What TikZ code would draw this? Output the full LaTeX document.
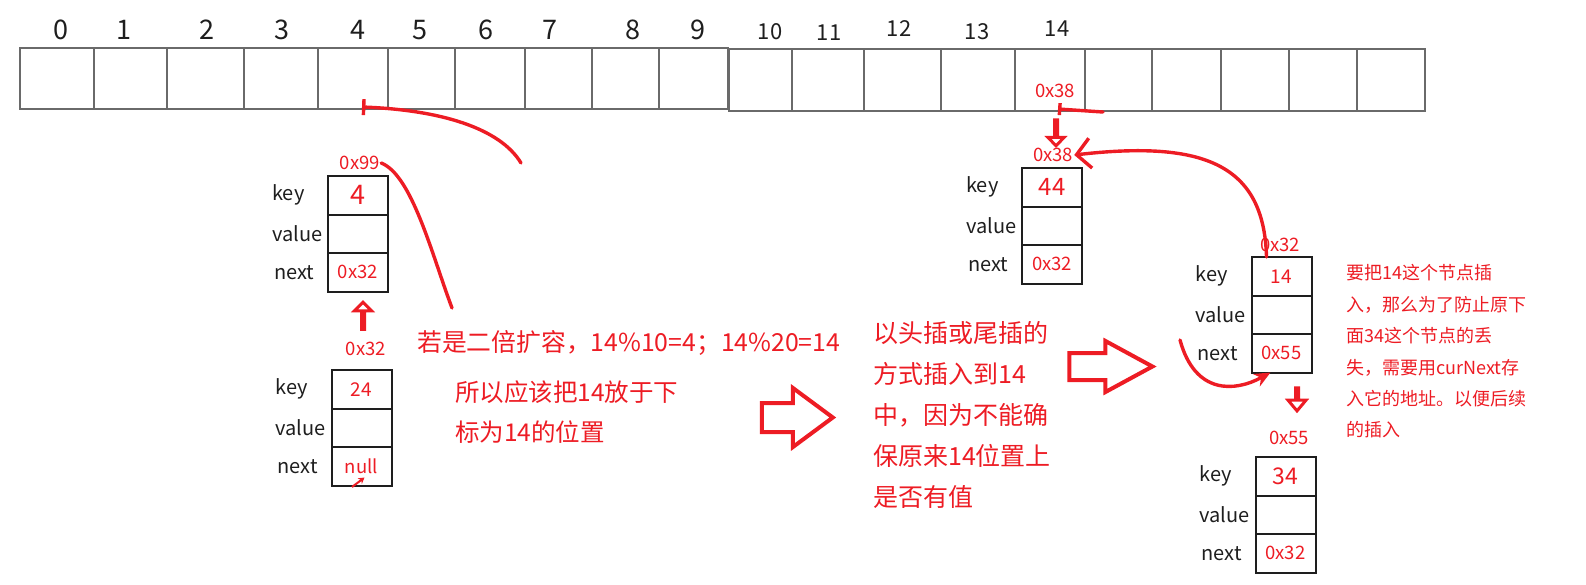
\documentclass[tikz,border=0pt]{standalone}
\usepackage{fontspec}
\setmainfont{Noto Sans CJK SC}
\usepackage{tikz}
\usetikzlibrary{arrows.meta,positioning,shapes.arrows}
\definecolor{ink}{HTML}{1E1E1E}
\definecolor{scarlet}{HTML}{ED1C24}
\definecolor{slate}{HTML}{6A6A6A}
\colorlet{acc}{scarlet}
\colorlet{grid}{slate}

\begin{document}
\begin{tikzpicture}[x=1pt,y=-1pt,
    slot/.style={draw=grid,line width=1.4pt,inner sep=0,outer sep=0},
    field/.style={draw=ink,line width=2pt,minimum width=60pt,minimum height=38.5pt,
                  inner sep=0,outer sep=0,text=acc,font=\fontsize{18.5}{18.5}\selectfont},
    fname/.style={anchor=west,text=ink,inner sep=0,font=\fontsize{20}{20}\selectfont},
    addr/.style={text=acc,inner sep=1pt,font=\fontsize{18.5}{18.5}\selectfont},
    note/.style={anchor=west,text=acc,align=left,inner sep=0},
    scrawl/.style={acc,line width=3.4pt,line cap=round,line join=round},
    blockarrow/.style={single arrow,draw=acc,line width=4pt,inner xsep=0,
                       single arrow head indent=0pt}]
    \useasboundingbox (0,0) rectangle (1586,584);
    \foreach \i/\a/\b/\t/\u in {0/20/94/48/109, 1/94/167/48/109, 2/167/244/48/109,
        3/244/318/48/109, 4/318/388/48/109, 5/388/455/48/109, 6/455/525/48/109,
        7/525/592/48/109, 8/592/659/48/109, 9/659/728/48/109, 10/729/792/49/111,
        11/792/864/49/111, 12/864/941/49/111, 13/941/1015/49/111, 14/1015/1085/49/111,
        15/1085/1152/49/111, 16/1152/1221/49/111, 17/1221/1289/49/111,
        18/1289/1357/49/111, 19/1357/1425/49/111}
      \node[slot,minimum width={(\b-\a)*1pt},minimum height={(\u-\t)*1pt}]
        (cell\i) at ({(\a+\b)/2},{(\t+\u)/2}) {};
    \foreach \i/\x/\y/\s in {0/61/30/27, 1/124/30/27, 2/207/30/27, 3/282/30/27,
        4/358/30/27, 5/420/30/27, 6/486/30/27, 7/550/30/27, 8/633/30/27, 9/698/30/27,
        10/770/32/22, 11/829/33/22, 12/899/29/22, 13/977/32/22, 14/1057/29/22}
      \node[text=ink,inner sep=0,font=\fontsize{\s}{\s}\selectfont] (idx\i) at (\x,\y) {\i};
    \node[addr] (cell14-ad) at (1055,91) {0x38};
    \foreach \nm/\bx/\by/\ks/\kv/\nv in {e4/358/176/27/4/0x32, e24/361.5/370/19/24/null,
        e44/1052/168/24/44/0x32, e14/1281.5/257/19/14/0x55, e34/1285.5/457/23/34/0x32} {
      \node[field,anchor=north,font=\fontsize{\ks}{\ks}\selectfont] (\nm-k) at (\bx,\by) {\kv};
      \node[field,below=0pt of \nm-k] (\nm-v) {};
      \node[field,below=0pt of \nm-v] (\nm-n) {\nv};
      \node[fname] (\nm-kl) at ([xshift=-56pt]\nm-k.west) {key};
      \node[fname] (\nm-vl) at ([xshift=-56pt]\nm-v.west) {value};
      \node[fname] (\nm-nl) at ([xshift=-54pt]\nm-n.west) {next};
    }
    \node[addr] (e4-ad) at (360,163) {0x99};
    \node[addr] (e24-ad) at (366,349) {0x32};
    \node[addr] (e44-ad) at (1053,155) {0x38};
    \node[addr] (e14-ad) at (1280,245) {0x32};
    \node[addr] (e34-ad) at (1289,438) {0x55};
    \node[note,font=\fontsize{24.8}{24.8}\selectfont] (rule) at (417,343)
      {若是二倍扩容，14\%10=4；14\%20=14};
    \node[note,font=\fontsize{24.5}{40}\selectfont] (hence) at (455,412)
      {所以应该把14放于下\\标为14的位置};
    \node[note,font=\fontsize{25}{41}\selectfont] (insert) at (873,415)
      {以头插或尾插的\\方式插入到14\\中，因为不能确\\保原来14位置上\\是否有值};
    \node[note,font=\fontsize{18}{31.4}\selectfont] (keep) at (1346,351.5)
      {要把14这个节点插\\入，那么为了防止原下\\面34这个节点的丢\\失，需要用curNext存\\入它的地址。以便后续\\的插入};
    \node[blockarrow,line width=3pt,shape border rotate=90,minimum height=27pt,inner ysep=7pt,
          single arrow head extend=7pt,single arrow tip angle=90] (upA) at (363,316.5) {};
    \node[blockarrow,line width=3pt,shape border rotate=270,minimum height=26pt,inner ysep=8pt,
          single arrow head extend=6.5pt,single arrow tip angle=88] (downA) at (1056,132) {};
    \node[blockarrow,line width=3pt,shape border rotate=270,minimum height=23pt,inner ysep=6.5pt,
          single arrow head extend=7.5pt,single arrow tip angle=80] (downB) at (1297,398.5) {};
    \node[blockarrow,minimum height=71pt,inner ysep=12.5pt,
          single arrow head extend=15pt,single arrow tip angle=73] (goA) at (787.5,417.5) {};
    \node[blockarrow,minimum height=83pt,inner ysep=11.5pt,
          single arrow head extend=12pt,single arrow tip angle=57] (goB) at (1098.5,366.5) {};
    \coordinate (tailA) at (452,308);
    \coordinate (tailB) at (521,163);
    \coordinate (tailD) at (1180,340);
    \coordinate (tailE) at (1103,112);
    \coordinate (tailF) at (352,487);
    \draw[scrawl] (tailA) .. controls (432,255) and (412,175) .. (e4-ad.east);
    \draw[scrawl,-{Bar[width=16pt]}] (tailB) .. controls (500,128) and (440,110)
      .. ([xshift=9pt,yshift=2pt]cell4.south);
    \draw[scrawl,-{Straight Barb[length=14pt,width=30pt]}] ([xshift=-15pt]e14-k.north)
      .. controls (1264,165) and (1205,140) .. (e44-ad.east);
    \draw[scrawl,-{Stealth[length=16pt,width=14pt]}] (tailD) .. controls (1195,395)
      and (1235,392) .. ([xshift=-11pt]e14-n.south);
    \draw[scrawl,-{Bar[width=12pt]}] (tailE) -- ([xshift=8pt,yshift=2pt]cell14.south);
    \draw[acc,line width=2pt,-{Stealth[length=6pt,width=7pt]}] (tailF)
      -- ([xshift=3pt,yshift=8pt]e24-n.south);
  \end{tikzpicture}
\end{document}
